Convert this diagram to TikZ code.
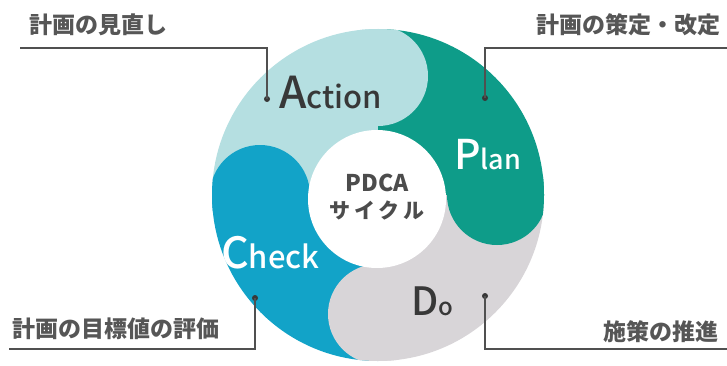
\documentclass[tikz,border=0pt]{standalone}
\usepackage{fontspec}
\usetikzlibrary{calc}
\setmainfont{Noto Sans CJK JP}[BoldFont={* Medium}]
\newfontfamily\jpb{Noto Sans CJK JP}
\definecolor{actc}{HTML}{B5DFE1}
\definecolor{planc}{HTML}{0E9C89}
\definecolor{doc}{HTML}{D8D5D8}
\definecolor{chkc}{HTML}{12A3C8}
\definecolor{txt}{HTML}{383838}
\definecolor{linec}{HTML}{505050}
\tikzset{
  lbl/.style={inner sep=0pt, font=\jpb\bfseries\fontsize{23}{23}\selectfont, text=txt!85},
  pin/.style={circle, fill=txt, inner sep=0pt, minimum size=6pt},
  callout/.style={draw=linec, line width=1.2pt},
  big/.style={inner sep=0pt, anchor=base west, font=\bfseries}
}
\begin{document}
\begin{tikzpicture}[x=1pt,y=1pt]
\useasboundingbox (0,0) rectangle (727,365);
\coordinate (C) at (378,170);
% sectors
\begin{scope}
\clip (C) circle (166);
\fill[actc]  (C) -- ++(90:170) arc (90:180:170) -- cycle;
\fill[planc] (C) -- ++(0:170) arc (0:90:170) -- cycle;
\fill[doc]   (C) -- ++(270:170) arc (270:360:170) -- cycle;
\fill[chkc]  (C) -- ++(180:170) arc (180:270:170) -- cycle;
% caps
\fill[actc]  ($(C)+(90:119)$) circle (50);
\fill[planc] ($(C)+(0:119)$) circle (50);
\fill[doc]   ($(C)+(270:119)$) circle (50);
\fill[chkc]  ($(C)+(180:118)$) circle (50);
\end{scope}
% center
\node[circle, fill=white, minimum size=138pt, inner sep=0pt] (center) at (377,166) {};
\node[inner sep=0pt, font=\jpb\bfseries\fontsize{23}{23}\selectfont, text=txt!90] (pdca) at (377,182) {PDCA};
\node[inner sep=0pt, font=\jpb\bfseries\fontsize{21}{21}\selectfont, text=txt!90] (cyc) at (377,155) {サ\,イ\,ク\,ル};
% big labels
\node[big, text=txt] (act) at (279,257) {{\fontsize{44}{44}\selectfont A}{\fontsize{31}{31}\selectfont ction}};
\node[big, text=white] (plan) at (454,196) {{\fontsize{41}{41}\selectfont P}{\fontsize{27}{27}\selectfont lan}};
\node[big, text=white] (chk) at (221,97) {{\fontsize{43}{43}\selectfont C}{\fontsize{31}{31}\selectfont heck}};
\node[big, text=txt] (do) at (411,50) {{\fontsize{39}{39}\selectfont D}{\fontsize{24}{24}\selectfont o}};
% pins
\node[pin] (pa) at (267,266) {};
\node[pin] (pp) at (485,267) {};
\node[pin] (pc) at (255,67) {};
\node[pin] (pd) at (485,69) {};
% corners
\coordinate (ka) at (267,317);
\coordinate (ea) at (20,317);
\coordinate (kp) at (485,317);
\coordinate (ep) at (727,317);
\coordinate (kc) at (255,16);
\coordinate (ec) at (9,16);
\coordinate (kd) at (485,16);
\coordinate (ed) at (727,16);
\draw[callout] (pa.center) -- (ka) -- (ea);
\draw[callout] (pp.center) -- (kp) -- (ep);
\draw[callout] (pc.center) -- (kc) -- (ec);
\draw[callout] (pd.center) -- (kd) -- (ed);
% texts
\node[lbl, anchor=west] (la) at (29,340) {計画の見直し};
\node[lbl, anchor=east] (lp) at (721,340) {計画の策定・改定};
\node[lbl, anchor=west] (lc) at (12,36) {計画の目標値の評価};
\node[lbl, anchor=east] (ld) at (719,33) {施策の推進};
\end{tikzpicture}
\end{document}
